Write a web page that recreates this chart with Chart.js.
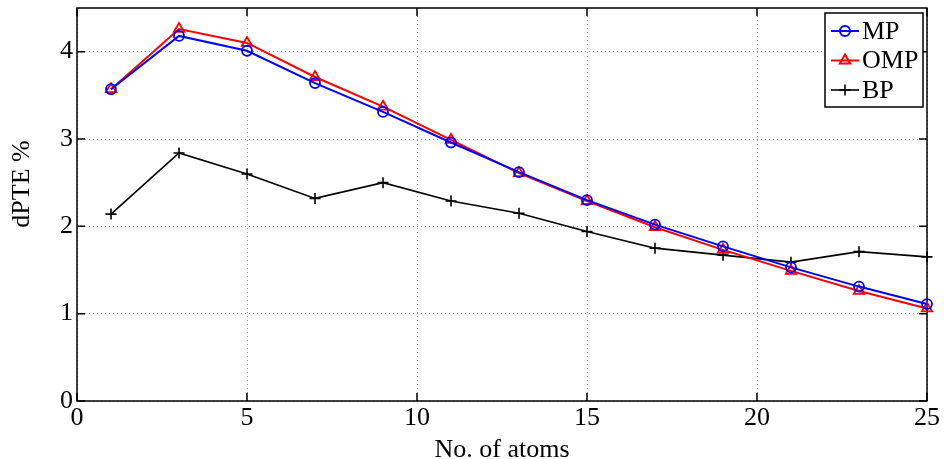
<!DOCTYPE html>
<html>
<head>
<meta charset="utf-8">
<title>dPTE vs number of atoms</title>
<script src="https://cdn.jsdelivr.net/npm/chart.js@4/dist/chart.umd.min.js"></script>
<style>
  html, body { margin: 0; padding: 0; background: #fff; }
  canvas { display: block; }
</style>
</head>
<body>
<canvas id="plot" width="944" height="459"></canvas>
<script>
// number of atoms on the x axis
const atoms = [1, 3, 5, 7, 9, 11, 13, 15, 17, 19, 21, 23, 25];
// dPTE (%) for each method
const mpValues  = [3.57, 4.18, 4.01, 3.64, 3.31, 2.96, 2.62, 2.30, 2.02, 1.77, 1.53, 1.31, 1.11];
const ompValues = [3.57, 4.26, 4.10, 3.71, 3.37, 2.99, 2.61, 2.29, 1.99, 1.73, 1.49, 1.26, 1.06];
const bpValues  = [2.14, 2.84, 2.60, 2.32, 2.50, 2.29, 2.15, 1.94, 1.75, 1.67, 1.59, 1.71, 1.65];
const xTicks = [0, 5, 10, 15, 20, 25];
const yTicks = [0, 1, 2, 3, 4];

const FONT = '"Liberation Serif", "Times New Roman", serif';

const toPoints = (vals) => atoms.map((a, i) => ({ x: a, y: vals[i] }));

// matlab style box with inward ticks on all four sides
const frame = {
  id: 'frame',
  beforeDatasetsDraw(chart) {
    const { ctx, chartArea: a, scales } = chart;
    ctx.save();
    ctx.strokeStyle = '#000';
    ctx.lineWidth = 1.5;
    ctx.beginPath();
    xTicks.forEach(v => {
      const px = scales.x.getPixelForValue(v);
      ctx.moveTo(px, a.bottom); ctx.lineTo(px, a.bottom - 8);
      ctx.moveTo(px, a.top); ctx.lineTo(px, a.top + 8);
    });
    yTicks.forEach(v => {
      const py = scales.y.getPixelForValue(v);
      ctx.moveTo(a.left, py); ctx.lineTo(a.left + 8, py);
      ctx.moveTo(a.right, py); ctx.lineTo(a.right - 8, py);
    });
    ctx.stroke();
    ctx.strokeRect(a.left, a.top, a.right - a.left, a.bottom - a.top);
    ctx.restore();
  },
  afterDraw(chart) {
    const ctx = chart.ctx;
    // y axis label
    ctx.save();
    ctx.translate(22, 184);
    ctx.rotate(-Math.PI / 2);
    ctx.fillStyle = '#000';
    ctx.font = '26px ' + FONT;
    ctx.textAlign = 'center';
    ctx.textBaseline = 'middle';
    ctx.fillText('dPTE %', 0, 0);
    ctx.restore();

    // legend box, line sample with marker
    const bx = 825, by = 13, bw = 98, bh = 94;
    ctx.save();
    ctx.fillStyle = '#fff';
    ctx.fillRect(bx, by, bw, bh);
    ctx.strokeStyle = '#000';
    ctx.lineWidth = 1.5;
    ctx.strokeRect(bx, by, bw, bh);
    chart.data.datasets.forEach((ds, i) => {
      const y = 31 + i * 29.5;
      ctx.strokeStyle = ds.borderColor;
      ctx.lineWidth = ds.borderWidth;
      ctx.beginPath();
      ctx.moveTo(831, y); ctx.lineTo(859, y);
      ctx.stroke();
      ctx.fillStyle = 'rgba(0,0,0,0)';
      Chart.helpers.drawPoint(ctx, {
        pointStyle: ds.pointStyle,
        radius: ds.pointRadius,
        borderWidth: ds.pointBorderWidth,
        rotation: 0
      }, 845, y);
      ctx.fillStyle = '#000';
      ctx.font = '26px ' + FONT;
      ctx.textAlign = 'left';
      ctx.textBaseline = 'middle';
      ctx.fillText(ds.label, 862, y + 1);
    });
    ctx.restore();
  }
};

new Chart(document.getElementById('plot'), {
  type: 'line',
  data: {
    datasets: [
      {
        label: 'MP',
        data: toPoints(mpValues),
        borderColor: '#0000ff',
        backgroundColor: 'rgba(0,0,0,0)',
        borderWidth: 2,
        pointStyle: 'circle',
        pointRadius: 5,
        pointBorderWidth: 1.8,
        pointBackgroundColor: 'rgba(0,0,0,0)',
        tension: 0,
        clip: false
      },
      {
        label: 'OMP',
        data: toPoints(ompValues),
        borderColor: '#ff0000',
        backgroundColor: 'rgba(0,0,0,0)',
        borderWidth: 2,
        pointStyle: 'triangle',
        pointRadius: 6,
        pointBorderWidth: 1.8,
        pointBackgroundColor: 'rgba(0,0,0,0)',
        tension: 0,
        clip: false
      },
      {
        label: 'BP',
        data: toPoints(bpValues),
        borderColor: '#000000',
        backgroundColor: 'rgba(0,0,0,0)',
        borderWidth: 1.6,
        pointStyle: 'cross',
        pointRadius: 5.5,
        pointBorderWidth: 1.6,
        tension: 0,
        clip: false
      }
    ]
  },
  options: {
    responsive: false,
    animation: false,
    events: [],
    layout: { padding: { left: 0, top: 8, right: 17, bottom: 0 } },
    plugins: {
      legend: { display: false },
      tooltip: { enabled: false }
    },
    scales: {
      x: {
        type: 'linear',
        min: 0,
        max: 25,
        afterFit(scale) {
          scale.height = 58;
          scale.paddingLeft = 0;
          scale.paddingRight = 0;
        },
        afterBuildTicks(scale) { scale.ticks = xTicks.map(v => ({ value: v })); },
        ticks: {
          padding: 2,
          color: '#000',
          font: { family: FONT, size: 26 }
        },
        grid: { color: '#a0a0a0', lineWidth: 1, drawTicks: false },
        border: { display: false, dash: [1, 3] },
        title: {
          display: true,
          text: 'No. of atoms',
          color: '#000',
          padding: 0,
          font: { family: FONT, size: 26, lineHeight: 0.66 }
        }
      },
      y: {
        type: 'linear',
        min: 0,
        max: 4.5,
        afterFit(scale) {
          scale.width = 77;
          scale.paddingTop = 0;
          scale.paddingBottom = 0;
        },
        afterBuildTicks(scale) { scale.ticks = yTicks.map(v => ({ value: v })); },
        ticks: {
          padding: 4,
          color: '#000',
          font: { family: FONT, size: 26 }
        },
        grid: { color: '#a0a0a0', lineWidth: 1, drawTicks: false },
        border: { display: false, dash: [1, 3] }
      }
    }
  },
  plugins: [frame]
});
</script>
</body>
</html>
